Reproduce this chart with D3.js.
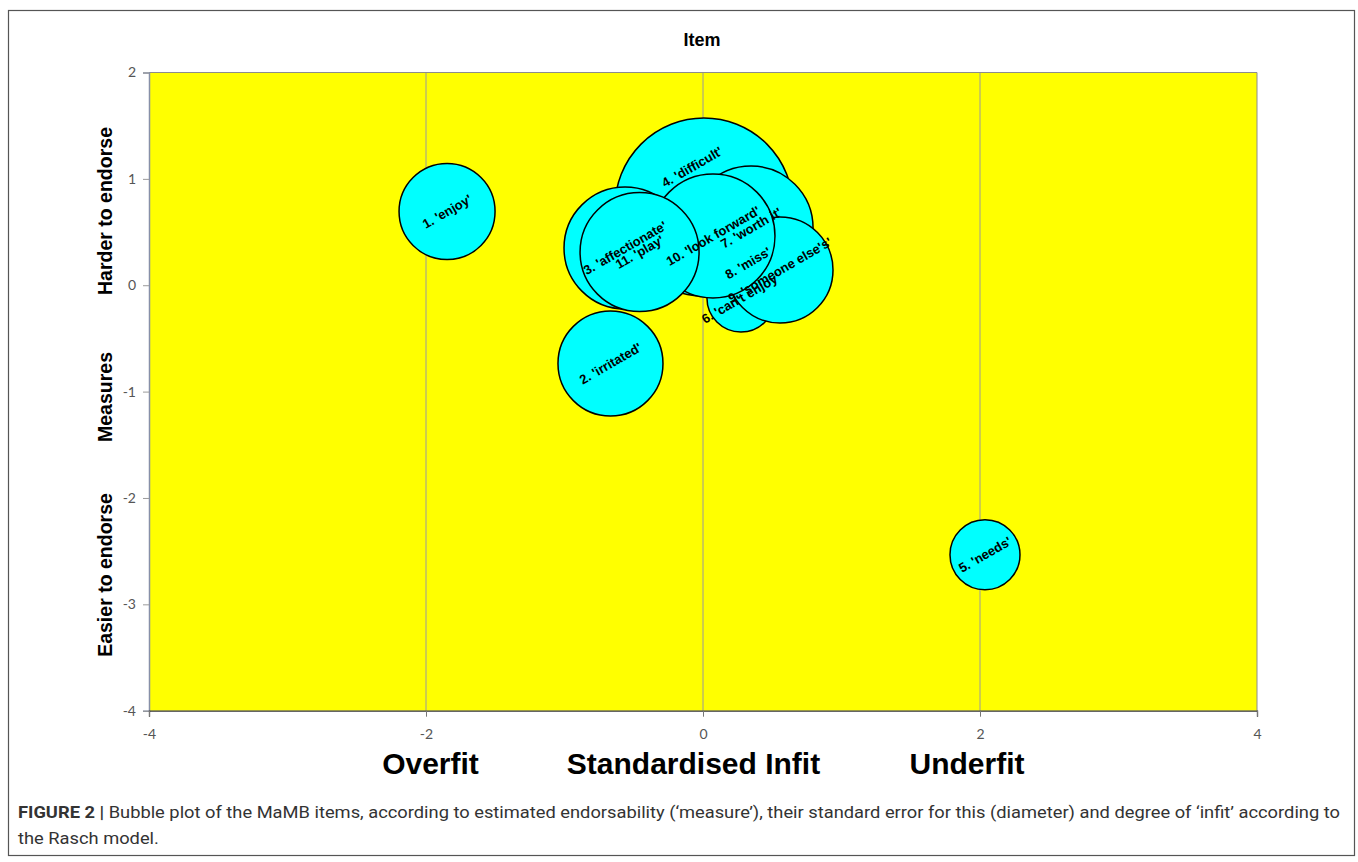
<!DOCTYPE html>
<html><head><meta charset="utf-8">
<script src="https://cdn.jsdelivr.net/npm/d3@7"></script>
<style>body{margin:0;background:#fff;} svg{display:block;}</style>
</head><body>
<svg id="chart" width="1358" height="862"></svg>
<script>
// ---------- DATA ----------
const itemIds    = [1, 2, 3, 4, 5, 6, 7, 8, 9, 10, 11];
const itemLabels = ["1. 'enjoy'", "2. 'irritated'", "3. 'affectionate'", "4. 'difficult'", "5. 'needs'",
                    "6. 'can't enjoy'", "7. 'worth it'", "8. 'miss'", "9. 'someone else's'",
                    "10. 'look forward'", "11. 'play'"];
const infit      = [-1.848, -0.668, -0.563, 0.007, 2.036, 0.274, 0.347, 0.325, 0.556, 0.072, -0.458];
const measure    = [0.693, -0.736, 0.350, 0.735, -2.533, -0.120, 0.538, 0.209, 0.143, 0.463, 0.312];
const stdError   = [0.096, 0.105, 0.122, 0.178, 0.070, 0.068, 0.124, 0.090, 0.106, 0.124, 0.119];
const drawOrder  = [8, 4, 7, 6, 9, 10, 3, 11, 2, 1, 5];
const xTicks = [-4, -2, 0, 2, 4];
const yTicks = [2, 1, 0, -1, -2, -3, -4];
const gridX  = [-2, 0, 2];
const xAxisWords = ["Overfit", "Standardised Infit", "Underfit"];
const yAxisWords = ["Harder to endorse", "Measures", "Easier to endorse"];

// ---------- LAYOUT ----------
const svg = d3.select("#chart");
const P = {left: 149, right: 1257, top: 72.5, bottom: 710.7};
const x = d3.scaleLinear().domain([-4, 4]).range([P.left, P.right]);
const y = d3.scaleLinear().domain([-4, 2]).range([P.bottom, P.top]);
const r = d3.scaleLinear().domain([0, 0.2]).range([0, 100]);
const labelNudgePx = {4: [-12, -40]};
const fmt = d => String(d);

// outer frame
svg.append("rect").attr("x", 8.5).attr("y", 10.5).attr("width", 1346).attr("height", 845)
  .attr("fill", "none").attr("stroke", "#555").attr("stroke-width", 1.2);

// title
svg.append("text").attr("x", 702).attr("y", 46).attr("text-anchor", "middle")
  .attr("font-family", "Liberation Sans, Arial, sans-serif").attr("font-weight", "bold")
  .attr("font-size", 18).attr("fill", "#000").text("Item");

// plot background
svg.append("rect").attr("x", P.left).attr("y", P.top)
  .attr("width", P.right - P.left).attr("height", P.bottom - P.top).attr("fill", "#ffff00");

// gridlines
svg.append("g").selectAll("line").data(gridX).join("line")
  .attr("x1", d => x(d)).attr("x2", d => x(d)).attr("y1", P.top).attr("y2", P.bottom)
  .attr("stroke", "#9a9a9a").attr("stroke-width", 1);

// borders
svg.append("line").attr("x1", P.left).attr("x2", P.right).attr("y1", P.top).attr("y2", P.top)
  .attr("stroke", "#8c8c8c").attr("stroke-width", 1);
svg.append("line").attr("x1", P.right).attr("x2", P.right).attr("y1", P.top).attr("y2", P.bottom)
  .attr("stroke", "#8c8c8c").attr("stroke-width", 1);

// axes
const yAxis = svg.append("g").attr("transform", `translate(${P.left},0)`)
  .call(d3.axisLeft(y).tickValues(yTicks).tickSize(6).tickPadding(7).tickFormat(fmt));
yAxis.select(".domain").attr("stroke", "#8790a8").attr("stroke-width", 1.5);
yAxis.selectAll(".tick line").attr("stroke", "#9a9a9a");
yAxis.selectAll(".tick text").attr("font-family", "Lato, 'Open Sans', sans-serif")
  .attr("font-size", 14).attr("fill", "#555");

const xAxis = svg.append("g").attr("transform", `translate(0,${P.bottom})`)
  .call(d3.axisBottom(x).tickValues(xTicks).tickSize(6).tickPadding(12).tickFormat(fmt));
xAxis.select(".domain").attr("stroke", "#333").attr("stroke-width", 1.3);
xAxis.selectAll(".tick line").attr("stroke", "#777");
xAxis.selectAll(".tick text").attr("font-family", "Lato, 'Open Sans', sans-serif")
  .attr("font-size", 14).attr("fill", "#555");

// bubbles
const items = itemIds.map((id, i) => ({id, label: itemLabels[i], fx: infit[i], my: measure[i], se: stdError[i]}));
const ordered = drawOrder.map(id => items.find(d => d.id === id));
svg.append("g").selectAll("circle").data(ordered).join("circle")
  .attr("cx", d => x(d.fx)).attr("cy", d => y(d.my)).attr("r", d => r(d.se))
  .attr("fill", "#00ffff").attr("stroke", "#000").attr("stroke-width", 1.5);

// bubble labels (on top of all bubbles)
svg.append("g").selectAll("text").data(ordered).join("text")
  .attr("transform", d => {
    const n = labelNudgePx[d.id] || [0, 0];
    return `translate(${x(d.fx) + n[0]},${y(d.my) + n[1]}) rotate(-30)`;
  })
  .attr("text-anchor", "middle").attr("dominant-baseline", "central")
  .attr("font-family", "Liberation Sans, Arial, sans-serif").attr("font-weight", "bold")
  .attr("font-size", 13).attr("fill", "#000").text(d => d.label);

// x axis words
const xWordPos = [430.5, 693.5, 967];
svg.append("g").selectAll("text").data(xAxisWords).join("text")
  .attr("x", (d, i) => xWordPos[i]).attr("y", 774).attr("text-anchor", "middle")
  .attr("font-family", "Liberation Sans, Arial, sans-serif").attr("font-weight", "bold")
  .attr("font-size", 30).attr("fill", "#000").text(d => d);

// y axis words
const yWordPos = [211, 397, 575];
svg.append("g").selectAll("text").data(yAxisWords).join("text")
  .attr("transform", (d, i) => `translate(112,${yWordPos[i]}) rotate(-90)`)
  .attr("text-anchor", "middle")
  .attr("font-family", "Liberation Sans, Arial, sans-serif").attr("font-weight", "bold")
  .attr("font-size", 19.5).attr("fill", "#000").text(d => d);

// caption
const capFont = "Roboto, 'Liberation Sans', sans-serif";
const cap1 = svg.append("text").attr("x", 18).attr("y", 818)
  .attr("font-family", capFont).attr("font-size", 17).attr("fill", "#333");
cap1.append("tspan").attr("font-weight", "bold").text("FIGURE 2 | ");
cap1.append("tspan").text("Bubble plot of the MaMB items, according to estimated endorsability (\u2018measure\u2019), their standard error for this (diameter) and degree of \u2018infit\u2019 according to");
const cap2 = svg.append("text").attr("x", 18).attr("y", 844)
  .attr("font-family", capFont).attr("font-size", 17).attr("fill", "#333")
  .text("the Rasch model.");
const w1 = cap1.node().getComputedTextLength();
const w2 = cap2.node().getComputedTextLength();
const target1 = 1322;
const k = target1 / w1;
cap1.attr("textLength", target1).attr("lengthAdjust", "spacingAndGlyphs");
cap2.attr("textLength", w2 * k).attr("lengthAdjust", "spacingAndGlyphs");
</script>
</body></html>
